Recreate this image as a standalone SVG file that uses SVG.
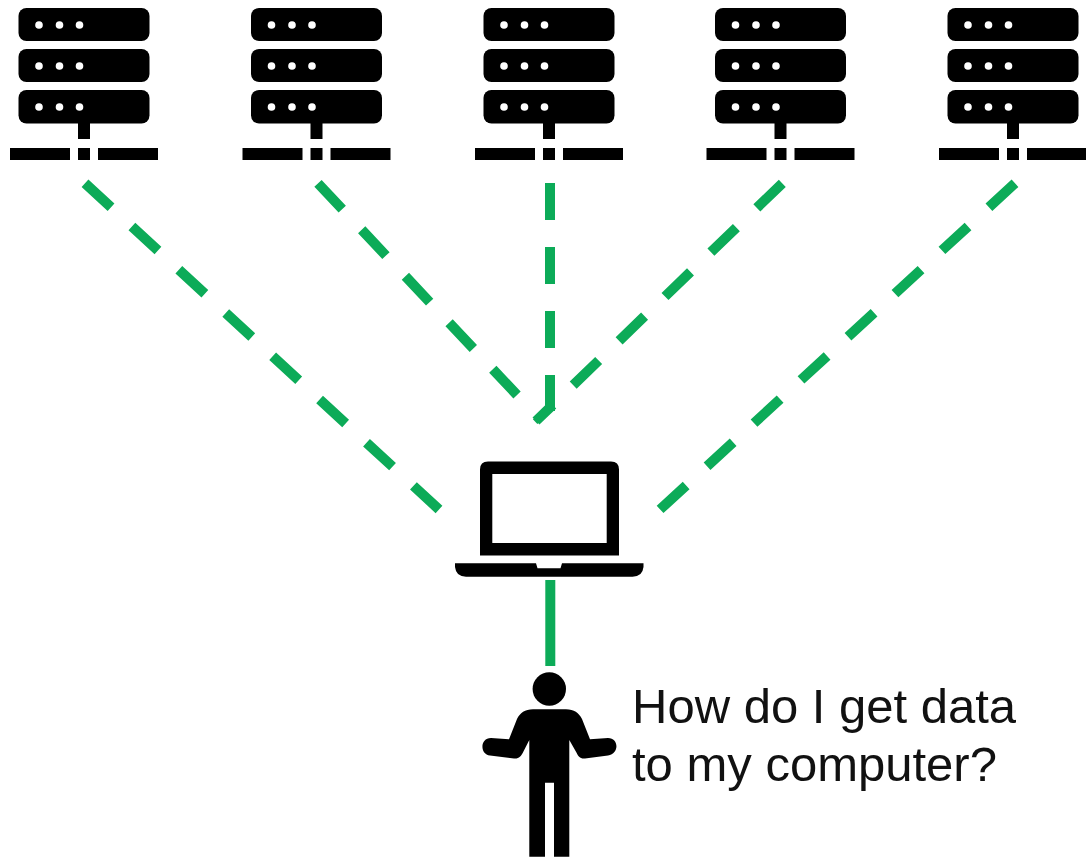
<svg xmlns="http://www.w3.org/2000/svg" width="1086" height="859" viewBox="0 0 1086 859">
<style>
.k{fill:#000}
.w{fill:#fff}
.d{fill:none;stroke:#0cab58;stroke-width:10;stroke-dasharray:35.400 28.400}
.s{fill:none;stroke:#0cab58;stroke-width:10}
text{font-family:"Liberation Sans",Arial,sans-serif;font-size:49px;fill:#111}
</style>
<defs>
<g id="server">
<rect class="k" x="18.500" y="8" width="131" height="33" rx="8"/>
<rect class="k" x="18.500" y="49" width="131" height="33" rx="8"/>
<rect class="k" x="18.500" y="90" width="131" height="33.500" rx="8"/>
<g class="w">
<circle cx="39" cy="25" r="3.800"/><circle cx="59.500" cy="25" r="3.800"/><circle cx="79.500" cy="25" r="3.800"/>
<circle cx="39" cy="66" r="3.800"/><circle cx="59.500" cy="66" r="3.800"/><circle cx="79.500" cy="66" r="3.800"/>
<circle cx="39" cy="107" r="3.800"/><circle cx="59.500" cy="107" r="3.800"/><circle cx="79.500" cy="107" r="3.800"/>
</g>
<rect class="k" x="78" y="123" width="12" height="16"/>
<rect class="k" x="10" y="148" width="60" height="12"/>
<rect class="k" x="78" y="148" width="12" height="12"/>
<rect class="k" x="98" y="148" width="60" height="12"/>
</g>
</defs>
<g id="connectors">
<path class="d" d="M85 183.300L439 509.500"/>
<path class="d" d="M318 183.300L541 420.500"/>
<path class="d" style="stroke-dasharray:37 27" d="M550 183V411"/>
<path class="d" d="M782.300 183.300L536 421"/>
<path class="d" d="M1015 183.300L660 509.500"/>
<path class="s" d="M550.300 580V666"/>
</g>
<g id="server1"><use href="#server"/></g>
<g id="server2"><use href="#server" x="232.500"/></g>
<g id="server3"><use href="#server" x="465"/></g>
<g id="server4"><use href="#server" x="696.500"/></g>
<g id="server5"><use href="#server" x="929"/></g>
<g id="laptop">
<path class="k" fill-rule="evenodd" d="M488 461.500H611Q619 461.500 619 469.500V555.500H480V469.500Q480 461.500 488 461.500ZM492.300 474V543H606.700V474Z"/>
<path class="k" d="M455 563.300H536L537.500 568.300H560.500L562 563.300H643.500V567Q642.500 576.700 632.500 576.700H466Q456 576.700 455 567Z"/>
</g>
<g id="person">
<circle class="k" cx="549.300" cy="689" r="16.700"/>
<path class="k" d="M533 709.300H566C574 709.300 579 713 582 719L590 739.300L608 738C619 738 619.500 754 608 755.500L585 758.500C580 759 578 756 576.700 753L569.300 740V856.700H554V782.700H545V856.700H529.300V740L522.700 753C521 756 519 759 514 758.500L490 755.500C479.500 754 480 738 491 738L509 739.300L517 719C520 713 525 709.300 533 709.300Z"/>
</g>
<g id="label">
<text x="632" y="723">How do I get data</text>
<text x="632" y="781">to my computer?</text>
</g>
</svg>
